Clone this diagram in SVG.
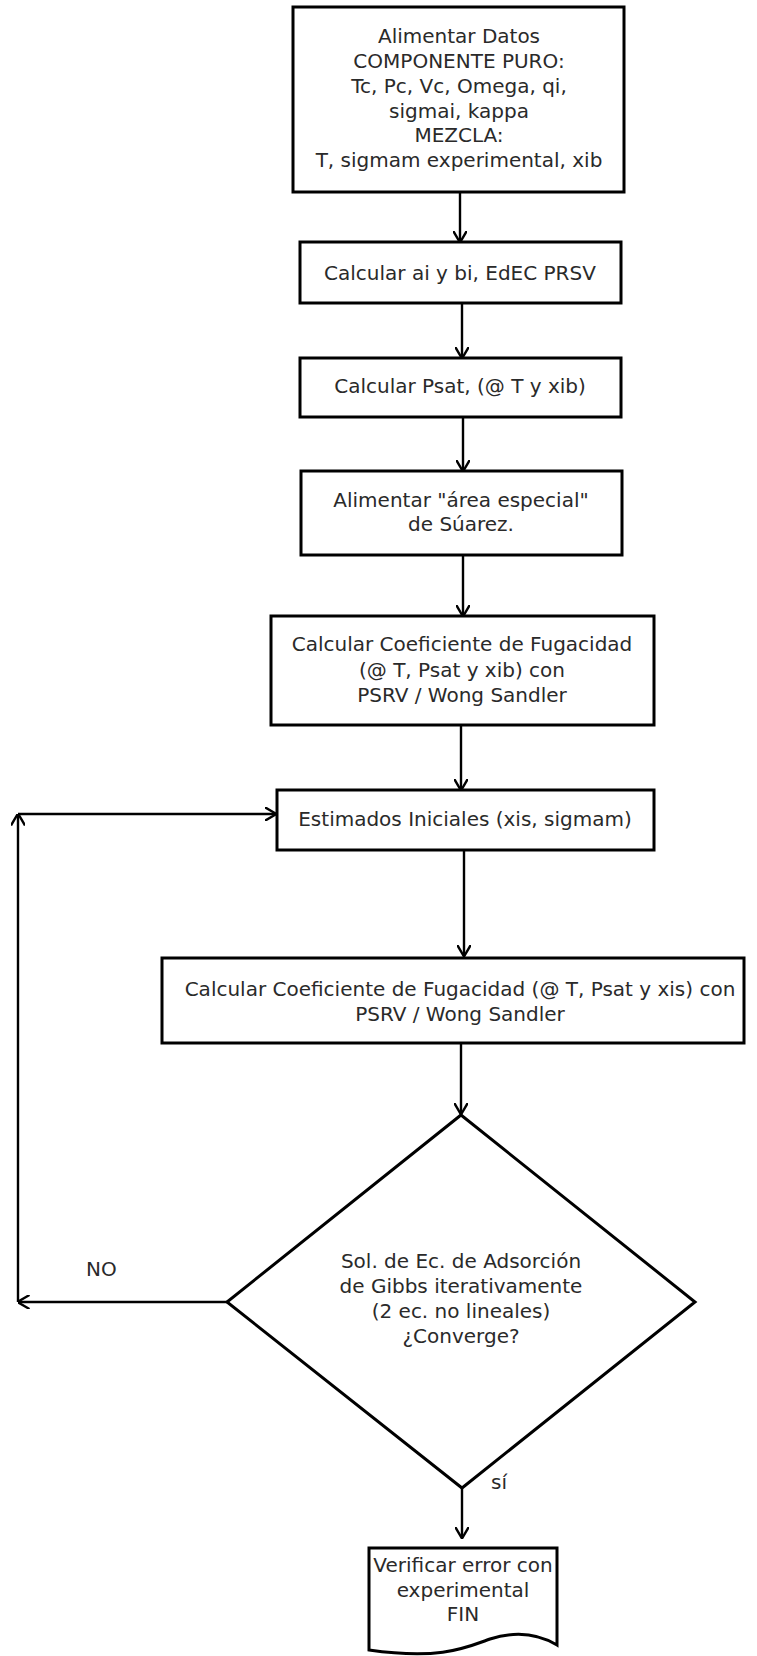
<svg xmlns="http://www.w3.org/2000/svg" width="757" height="1656" viewBox="0 0 757 1656">
  <defs>
    <marker id="arrow" viewBox="0 0 12 14" refX="11.5" refY="7" markerWidth="12" markerHeight="14" markerUnits="userSpaceOnUse" orient="auto">
      <path d="M0,0 L12,7 L0,14" fill="none" stroke="#000" stroke-width="2.4"/>
    </marker>
  </defs>
  <style>
    .box { fill: #fff; stroke: #000; stroke-width: 3; }
    .edge { fill: none; stroke: #000; stroke-width: 2.4; marker-end: url(#arrow); }
    text { font-family: "DejaVu Sans", "Liberation Sans", sans-serif; font-size: 20px; fill: #2a2a2a; text-anchor: middle; }
    .lbl { text-anchor: start; }
  </style>
  <rect width="757" height="1656" fill="#fff"/>

  <!-- connectors -->
  <g id="connectors">
    <line class="edge" x1="460" y1="192" x2="460" y2="242"/>
    <line class="edge" x1="462" y1="303" x2="462" y2="358"/>
    <line class="edge" x1="463" y1="417" x2="463" y2="471"/>
    <line class="edge" x1="463" y1="555" x2="463" y2="616"/>
    <line class="edge" x1="461" y1="725" x2="461" y2="790"/>
    <line class="edge" x1="464" y1="850" x2="464" y2="956"/>
    <line class="edge" x1="461" y1="1043" x2="461" y2="1114"/>
    <line class="edge" x1="462" y1="1488" x2="462" y2="1538"/>
    <!-- NO branch back to the initial estimates -->
    <line class="edge" x1="227" y1="1302" x2="18" y2="1302"/>
    <line class="edge" x1="18" y1="1302" x2="18" y2="814"/>
    <line class="edge" x1="18" y1="814" x2="276" y2="814"/>
    <text class="lbl" x="86" y="1276">NO</text>
    <text class="lbl" x="491" y="1489">sí</text>
  </g>

  <g id="datos">
    <rect class="box" x="293" y="7" width="331" height="185"/>
    <text x="459" y="43">Alimentar Datos</text>
    <text x="459" y="68">COMPONENTE PURO:</text>
    <text x="459" y="93">Tc, Pc, Vc, Omega, qi,</text>
    <text x="459" y="118">sigmai, kappa</text>
    <text x="459" y="142">MEZCLA:</text>
    <text x="459" y="167">T, sigmam experimental, xib</text>
  </g>

  <g id="calc-ab">
    <rect class="box" x="300" y="242" width="321" height="61"/>
    <text x="460" y="280">Calcular ai y bi, EdEC PRSV</text>
  </g>

  <g id="calc-psat">
    <rect class="box" x="300" y="358" width="321" height="59"/>
    <text x="460" y="393">Calcular Psat, (@ T y xib)</text>
  </g>

  <g id="area-especial">
    <rect class="box" x="301" y="471" width="321" height="84"/>
    <text x="461" y="507">Alimentar "área especial"</text>
    <text x="461" y="531">de Súarez.</text>
  </g>

  <g id="fugacidad-xib">
    <rect class="box" x="271" y="616" width="383" height="109"/>
    <text x="462" y="651">Calcular Coeficiente de Fugacidad</text>
    <text x="462" y="677">(@ T, Psat y xib) con</text>
    <text x="462" y="702">PSRV / Wong Sandler</text>
  </g>

  <g id="estimados">
    <rect class="box" x="277" y="790" width="377" height="60"/>
    <text x="465" y="826">Estimados Iniciales (xis, sigmam)</text>
  </g>

  <g id="fugacidad-xis">
    <rect class="box" x="162" y="958" width="582" height="85"/>
    <text x="460" y="996">Calcular Coeficiente de Fugacidad (@ T, Psat y xis) con</text>
    <text x="460" y="1021">PSRV / Wong Sandler</text>
  </g>

  <g id="converge">
    <polygon class="box" points="461,1115 695,1302 462,1488 227,1302"/>
    <text x="461" y="1268">Sol. de Ec. de Adsorción</text>
    <text x="461" y="1293">de Gibbs iterativamente</text>
    <text x="461" y="1318">(2 ec. no lineales)</text>
    <text x="461" y="1343">¿Converge?</text>
  </g>

  <g id="fin">
    <path class="box" d="M369,1548 H557 V1645 C537,1633 515,1631 490,1639 C465,1648 440,1660 369,1650 Z"/>
    <text x="463" y="1572">Verificar error con</text>
    <text x="463" y="1597">experimental</text>
    <text x="463" y="1621">FIN</text>
  </g>
</svg>
